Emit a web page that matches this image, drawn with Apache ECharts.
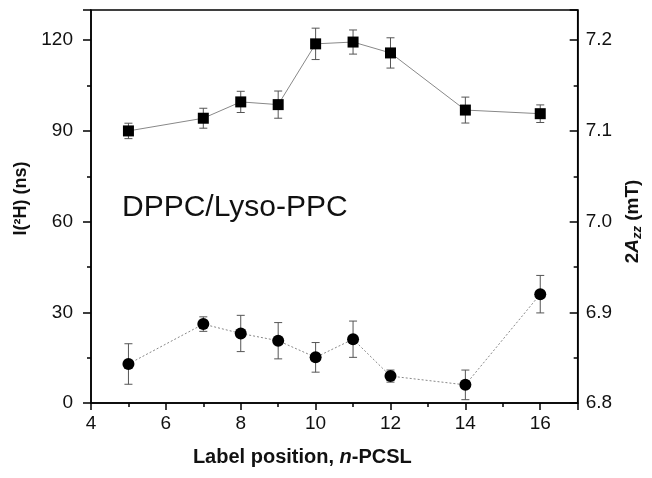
<!DOCTYPE html>
<html><head><meta charset="utf-8">
<script src="https://cdn.jsdelivr.net/npm/echarts@6/dist/echarts.min.js"></script>
<style>html,body{margin:0;padding:0;background:#fff}#c{width:652px;height:478px}</style>
</head><body><div id="c"></div>
<script>
const positions = [5, 7, 8, 9, 10, 11, 12, 14, 16];
const azz = [7.100, 7.114, 7.132, 7.129, 7.196, 7.198, 7.186, 7.123, 7.119];
const azzErr = [0.0085, 0.011, 0.0117, 0.015, 0.0173, 0.0133, 0.0167, 0.0143, 0.0097];
const tau = [12.9, 26.1, 23.0, 20.6, 15.1, 21.1, 8.9, 6.0, 36.0];
const tauErr = [6.7, 2.4, 6.0, 6.0, 4.9, 6.0, 2.0, 4.9, 6.2];
const xTicks = [4, 6, 8, 10, 12, 14, 16];
const leftTicks = [0, 30, 60, 90, 120];
const rightTicks = ['6.8', '6.9', '7.0', '7.1', '7.2'];

const FONT = '"Liberation Sans", Arial, sans-serif';
const chart = echarts.init(document.getElementById('c'));

function errRender(params, api) {
  const x = api.value(0), y = api.value(1), e = api.value(2);
  const t = api.coord([x, y + e]), b = api.coord([x, y - e]);
  const hw = 4;
  const st = {stroke: '#555', lineWidth: 1};
  return {type: 'group', children: [
    {type: 'line', shape: {x1: t[0], y1: t[1], x2: b[0], y2: b[1]}, style: st},
    {type: 'line', shape: {x1: t[0] - hw, y1: t[1], x2: t[0] + hw, y2: t[1]}, style: st},
    {type: 'line', shape: {x1: b[0] - hw, y1: b[1], x2: b[0] + hw, y2: b[1]}, style: st}
  ]};
}

const labelStyle = {color: '#111', fontSize: 19, fontFamily: FONT};

chart.setOption({
  animation: false,
  grid: {left: 91, right: 72, top: 10, bottom: 75, show: true, borderColor: '#000', borderWidth: 1.5},
  xAxis: {
    type: 'value', min: 4, max: 17, interval: 2,
    name: '{b|Label position, }{i|n}{b|-PCSL}',
    nameLocation: 'middle', nameGap: 44,
    nameTextStyle: {padding: [0, 64, 0, 0], rich: {
      b: {fontSize: 20, fontWeight: 'bold', fontFamily: FONT, color: '#111'},
      i: {fontSize: 20, fontWeight: 'bold', fontStyle: 'italic', fontFamily: FONT, color: '#111'}
    }},
    axisLine: {lineStyle: {color: '#000', width: 1.5}},
    axisTick: {inside: false, length: 7, lineStyle: {color: '#000', width: 1.5}},
    minorTick: {show: true, splitNumber: 2, length: 4, lineStyle: {color: '#000', width: 1.5}},
    splitLine: {show: false},
    axisLabel: Object.assign({margin: 11, formatter: v => xTicks.includes(v) ? String(v) : ''}, labelStyle)
  },
  yAxis: [{
    type: 'value', min: 0, max: 130, interval: 30, position: 'left',
    name: 'I(²H) (ns)', nameLocation: 'middle', nameGap: 54,
    nameTextStyle: {fontSize: 18, fontWeight: 'bold', fontFamily: FONT, color: '#111', padding: [0, 0, 0, 16]},
    axisLine: {show: true, lineStyle: {color: '#000', width: 1.5}},
    axisTick: {inside: false, length: 8, lineStyle: {color: '#000', width: 1.5}},
    minorTick: {show: true, splitNumber: 2, length: 4, lineStyle: {color: '#000', width: 1.5}},
    splitLine: {show: false},
    axisLabel: Object.assign({margin: 18, formatter: v => leftTicks.includes(v) ? String(v) : ''}, labelStyle)
  }, {
    type: 'value', min: 6.8, max: 7.2 + 0.1 / 3, interval: 0.1, position: 'right',
    name: '{n|2}{a|A}{z|zz}{n| (mT)}', nameLocation: 'middle', nameGap: 42,
    nameTextStyle: {padding: [0, 30, 0, 0], rich: {
      n: {fontSize: 19, fontWeight: 'bold', fontFamily: FONT, color: '#111'},
      a: {fontSize: 19, fontWeight: 'bold', fontStyle: 'italic', fontFamily: FONT, color: '#111'},
      z: {fontSize: 13, fontWeight: 'bold', fontStyle: 'italic', fontFamily: FONT, color: '#111', padding: [10, 0, 0, 0]}
    }},
    axisLine: {show: true, lineStyle: {color: '#000', width: 1.5}},
    axisTick: {inside: true, length: 8, lineStyle: {color: '#000', width: 1.5}},
    minorTick: {show: true, splitNumber: 2, length: 4, lineStyle: {color: '#000', width: 1.5}},
    splitLine: {show: false},
    axisLabel: Object.assign({margin: 8, formatter: v => {
      const s = v.toFixed(1);
      return (Math.abs(v * 10 - Math.round(v * 10)) < 1e-6 && rightTicks.includes(s)) ? s : '';
    }}, labelStyle)
  }],
  graphic: [{
    type: 'text', left: 122, top: 193,
    style: {text: 'DPPC/Lyso-PPC', fontSize: 30, fontFamily: FONT, fill: '#111'}
  }],
  series: [{
    type: 'custom', yAxisIndex: 1, z: 2, renderItem: errRender,
    data: positions.map((x, i) => [x, azz[i], azzErr[i]])
  }, {
    type: 'line', yAxisIndex: 1, z: 3,
    data: positions.map((x, i) => [x, azz[i]]),
    symbol: 'rect', symbolSize: 11,
    itemStyle: {color: '#000'},
    lineStyle: {color: '#888', width: 1}
  }, {
    type: 'custom', yAxisIndex: 0, z: 2, renderItem: errRender,
    data: positions.map((x, i) => [x, tau[i], tauErr[i]])
  }, {
    type: 'line', yAxisIndex: 0, z: 3,
    data: positions.map((x, i) => [x, tau[i]]),
    symbol: 'circle', symbolSize: 12,
    itemStyle: {color: '#000'},
    lineStyle: {color: '#888', width: 1, type: [2, 2]}
  }]
});
</script>
</body></html>
